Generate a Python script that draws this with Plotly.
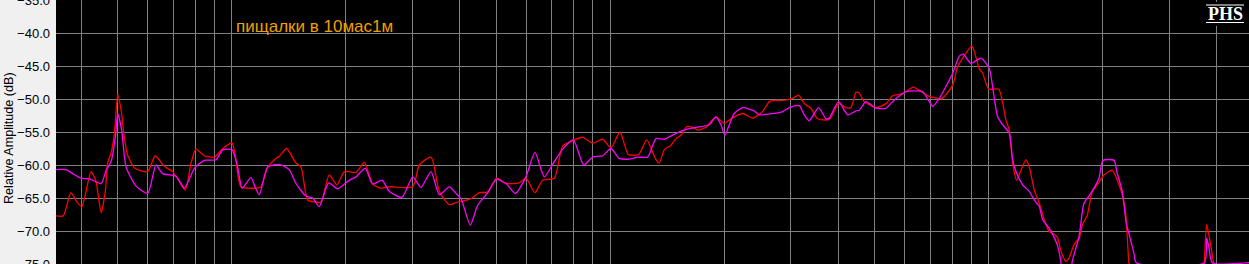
import plotly.graph_objects as go

# ---- data ----
red_freq = [343, 359, 376, 390, 402, 425, 438, 452, 464, 470, 480, 490, 500, 512, 520, 531,
            555, 600, 628, 664, 698, 724, 754, 781, 805, 846, 900, 947, 1002, 1026, 1058,
            1159, 1195, 1245, 1309, 1341, 1397, 1478, 1524, 1587, 1653, 1721, 1810, 1897,
            1983, 2130, 2240, 2357, 2479, 2608, 3007, 3130, 3361, 3535, 3756, 3912,
            4286, 4508, 4745, 5012, 5303, 5748, 5986, 6324, 6629, 7113, 7486, 7957, 8456,
            8985, 9548, 10043, 10608, 11157, 11885, 12478, 13203, 13470, 13886, 14464,
            14911, 15371, 15913, 16504, 17013, 17894, 18448, 19017, 20002, 20619, 21256,
            22370, 23771, 25261, 26296, 27108, 28529, 30315, 31441, 32530, 33883, 35291,
            37879, 40108, 41928, 43222, 44556, 45459, 46863, 50329, 53479, 55704, 59190,
            63142, 65488, 69584, 75164, 80235, 82714, 85265, 90231, 94329, 96300, 99876,
            106130, 110950, 113200, 115570, 118410, 121550, 125300, 127850, 131800,
            135870, 140070, 144130, 151590, 154760, 159540, 162770, 167800, 173710,
            176480, 181930, 187550, 194510, 201370, 211800, 218340, 225080, 229790,
            234450, 237300, 367700, 370600, 376000, 383700, 392400, 396700, 486500]
red_db = [-67.7, -67.7, -64.2, -65.6, -66.3, -61.0, -62.5, -67.2, -63.8, -59.7, -58.2, -55.2,
          -49.3, -52.2, -55.7, -58.5, -60.5, -61.0, -58.6, -60.2, -61.0, -62.3, -63.8, -59.7,
          -57.6, -58.6, -58.8, -57.5, -56.7, -59.2, -63.3,
          -63.5, -63.3, -60.3, -59.0, -58.6, -57.5, -59.7, -60.3, -65.3, -65.6, -65.6, -61.5,
          -63.0, -61.0, -61.1, -59.6, -62.9, -63.5, -63.3, -63.3, -60.0, -58.8, -64.0, -66.0,
          -65.7, -65.1, -64.2, -64.1, -62.0, -62.8, -62.7, -62.0, -64.2, -62.3, -62.0, -57.1,
          -56.3, -55.8, -56.7, -56.1, -57.4, -55.0, -58.4, -58.4, -56.2, -59.2, -59.7, -57.7,
          -57.0, -56.0, -55.5, -54.2, -54.3, -54.7, -54.3, -53.4, -52.7, -53.7, -53.2, -52.7,
          -52.2, -52.9, -51.9, -50.4, -50.2, -50.2, -49.9, -49.4, -50.7, -51.4, -53.0,
          -53.1, -50.7, -51.3, -51.3, -49.0, -49.1, -50.4, -51.3, -50.7, -49.5, -49.2,
          -48.2, -48.7, -49.6, -49.9, -47.9, -45.1, -43.8, -42.0, -45.4, -46.1, -48.5,
          -48.5, -53.2, -54.7, -59.7, -62.3, -60.8, -59.2, -60.3, -63.8,
          -65.8, -68.3, -70.0, -70.9, -72.9, -74.6, -74.1, -72.1, -70.9,
          -69.1, -67.6, -64.0, -62.8, -61.5, -60.8, -62.3, -64.5, -67.3,
          -74.9, -76.5, -76.5, -74.9, -69.0, -71.5, -74.9, -76.5, -76.5]

mag_freq = [343, 365, 380, 400, 421, 452, 466, 480, 493, 500, 512, 526, 559, 600, 631, 657,
            713, 750, 797, 846, 909, 947, 1002, 1037, 1065, 1124, 1154, 1183, 1245, 1336,
            1419, 1478, 1571, 1636, 1703, 1804, 1905, 2045, 2130, 2253, 2357, 2495, 2608,
            2817, 3007, 3162, 3361, 3535, 3756, 3912, 4034, 4268, 4464, 4745, 4990, 5303,
            5613, 5986, 6324, 6694, 7044, 7486, 7986, 8507, 8985, 9548, 10043, 10562,
            11225, 11813, 12554, 13203, 13886, 14911, 15846, 16838, 18258, 19017, 19605,
            20088, 20619, 21256, 22370, 24003, 24744, 26846, 28529, 29695, 31564, 32530,
            33534, 35506, 37126, 37879, 40108, 42364, 44556, 45459, 47350, 50329, 53479,
            55704, 60390, 66856, 71040, 73940, 77030, 80235, 83523, 85576, 89681, 95310,
            100240, 103340, 105490, 108750, 113200, 115570, 117910, 122810, 127850,
            131800, 135870, 138710, 144390, 147050, 151590, 154760, 156460, 164260,
            166070, 172970, 178310, 183820, 189500, 195350, 200150, 214000, 218340,
            225080, 230630, 236880, 241680, 245090, 370600, 376000, 381400, 389100, 486500]
mag_db = [-60.7, -60.7, -61.3, -62.0, -62.1, -62.8, -60.8, -59.5, -55.7, -52.2, -54.7, -60.3,
          -63.2, -64.3, -60.0, -61.3, -61.7, -63.5, -60.5, -59.3, -59.2, -57.7, -57.7, -60.3,
          -63.5, -61.9, -63.4, -64.5, -60.3, -59.9, -60.7, -62.8, -64.7, -65.0, -66.3, -62.7,
          -63.6, -62.3, -61.8, -60.5, -62.9, -62.3, -64.0, -64.9, -61.8, -63.4, -61.0, -64.5,
          -63.3, -64.3, -65.1, -69.1, -66.1, -64.2, -62.2, -62.8, -64.3, -61.8, -58.1, -61.8,
          -59.9, -57.6, -56.2, -60.0, -58.8, -58.6, -57.5, -59.0, -59.1, -58.8, -58.8, -56.0,
          -56.1, -55.2, -54.6, -54.3, -53.9, -52.7, -53.9, -55.5, -53.9, -52.2, -51.3, -51.8,
          -52.4, -52.2, -51.9, -51.3, -51.0, -52.4, -53.3, -51.3, -53.0, -52.9, -50.4, -52.4,
          -51.8, -51.7, -50.4, -51.4, -51.4, -50.4, -48.9, -48.9, -51.1, -49.9, -48.1, -46.1,
          -43.5, -43.2, -44.6, -43.8, -45.4, -49.9, -52.7, -53.9, -55.2, -59.2, -61.0, -63.0,
          -64.0, -65.3, -66.3, -68.3, -69.6, -70.4, -72.1, -74.4, -76.5, -76.5, -74.6, -70.9,
          -65.8, -64.7, -63.5, -62.0, -59.3, -59.3, -61.3, -64.0, -68.8, -71.4, -73.4, -74.8,
          -74.8, -71.1, -72.5, -74.8, -74.8]

y_ticks = [-75, -70, -65, -60, -55, -50, -45, -40, -35]
x_grid = [m * 10 ** e for e in (2, 3, 4, 5) for m in range(1, 10)]

title_text = "пищалки в 10мас1м"
y_title = "Relative Amplitude (dB)"

FONT = "Liberation Sans, Arial, sans-serif"

fig = go.Figure()
fig.add_trace(go.Scatter(x=red_freq, y=red_db, mode="lines",
                         line=dict(color="#ff0000", width=1.3, shape="spline", smoothing=0.6),
                         showlegend=False))
fig.add_trace(go.Scatter(x=mag_freq, y=mag_db, mode="lines",
                         line=dict(color="#ff00ff", width=1.3, shape="spline", smoothing=0.6),
                         showlegend=False))

fig.update_layout(
    width=1249, height=264,
    margin=dict(l=56, r=0, t=0, b=0, autoexpand=False),
    paper_bgcolor="#f0f0f0",
    plot_bgcolor="#000000",
    font=dict(family=FONT, size=12, color="#000000"),
    showlegend=False,
    xaxis=dict(type="log", range=[2.5359, 5.6871], tickvals=x_grid, showticklabels=False,
               ticks="", showgrid=True, gridcolor="#808080", gridwidth=1, automargin=False,
               showline=True, linecolor="#0000ff", linewidth=2, zeroline=False),
    yaxis=dict(range=[-75, -35], tickvals=y_ticks, tickformat=".1f", ticks="",
               ticklabelstandoff=5, ticklabeloverflow="allow", automargin=False,
               showgrid=True, gridcolor="#808080", gridwidth=1,
               zeroline=False, showline=False,
               tickfont=dict(family=FONT, size=13, color="#000000")),
    annotations=[
        dict(text=title_text, xref="paper", yref="paper", x=(234 - 56) / 1193, y=1 - 26 / 264,
             xanchor="left", yanchor="middle", showarrow=False,
             font=dict(family=FONT, size=17, color="#f0a000")),
        dict(text=y_title, xref="paper", yref="paper", x=(9 - 56) / 1193, y=1 - 138 / 264,
             xanchor="center", yanchor="middle", textangle=-90, showarrow=False,
             font=dict(family=FONT, size=12.6, color="#000000")),
        dict(text="<b>PHS</b>", xref="paper", yref="paper", x=(1225 - 56) / 1193, y=1 - 14 / 264,
             xanchor="center", yanchor="middle", showarrow=False,
             font=dict(family="Liberation Serif, Times New Roman, serif", size=18, color="#ffffff")),
    ],
    shapes=[
        dict(type="rect", xref="paper", yref="paper", x0=(1203 - 56) / 1193, x1=1,
             y0=1 - 26 / 264, y1=1 - 2 / 264, fillcolor="#000000", line=dict(width=0), layer="above"),
        dict(type="line", xref="paper", yref="paper", x0=(1206 - 56) / 1193, x1=(1244 - 56) / 1193,
             y0=1 - 5 / 264, y1=1 - 5 / 264, line=dict(color="#ffffff", width=1), layer="above"),
        dict(type="line", xref="paper", yref="paper", x0=(1206 - 56) / 1193, x1=(1244 - 56) / 1193,
             y0=1 - 22.5 / 264, y1=1 - 22.5 / 264, line=dict(color="#ffffff", width=1), layer="above"),
    ],
)

fig.write_html("out.html")
